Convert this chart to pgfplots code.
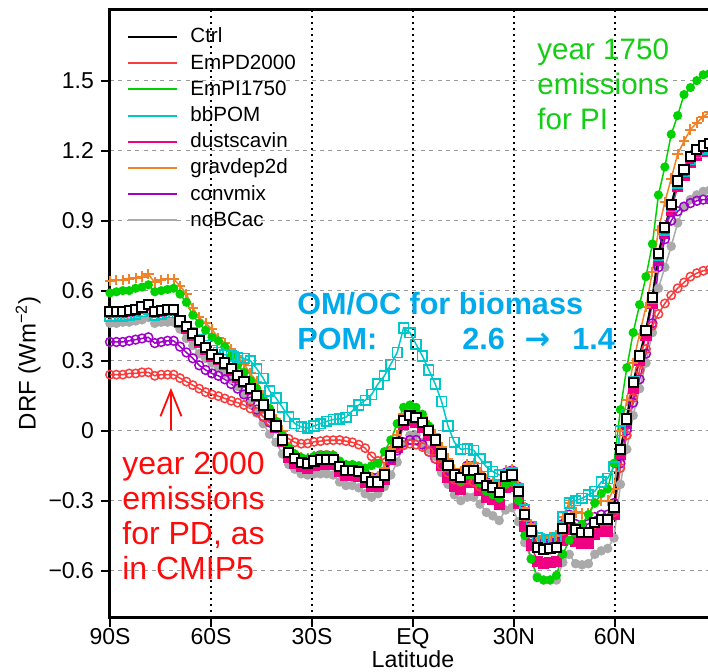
\documentclass[border=0pt]{standalone}
\usepackage{fontspec}
\setmainfont{Liberation Sans}
\newfontfamily\dejavu{DejaVu Sans}
\usepackage{pgfplots}
\pgfplotsset{compat=1.18}
\usepackage{pgfplotstable}
\usetikzlibrary{arrows.meta}
\tikzset{annot/.style={anchor=base west, inner sep=0pt}}

\definecolor{cPD}{RGB}{250,60,60}
\definecolor{cPI}{RGB}{0,210,0}
\definecolor{cBB}{RGB}{0,200,200}
\definecolor{cDS}{RGB}{240,0,130}
\definecolor{cGD}{RGB}{240,130,40}
\definecolor{cCM}{RGB}{160,0,200}
\definecolor{cNB}{RGB}{170,170,170}
\definecolor{tGreen}{RGB}{20,205,20}
\definecolor{tBlue}{RGB}{0,170,235}
\definecolor{tRed}{RGB}{255,10,10}

\pgfplotstableread{
lat ctrl pd pi bb ds gd cm nb
-90.0 0.51 0.24 0.59 0.49 0.505 0.64 0.38 0.46
-88.1 0.51 0.24 0.595 0.49 0.505 0.645 0.38 0.46
-86.2 0.51 0.24 0.60 0.49 0.505 0.645 0.38 0.465
-84.3 0.515 0.245 0.60 0.495 0.51 0.65 0.385 0.465
-82.4 0.52 0.245 0.61 0.50 0.515 0.655 0.39 0.47
-80.5 0.53 0.25 0.615 0.51 0.525 0.66 0.395 0.475
-78.6 0.54 0.25 0.625 0.52 0.535 0.67 0.40 0.485
-76.7 0.51 0.235 0.595 0.495 0.505 0.635 0.375 0.46
-74.8 0.515 0.24 0.60 0.50 0.51 0.645 0.38 0.465
-72.9 0.52 0.24 0.605 0.505 0.515 0.65 0.385 0.465
-71.1 0.52 0.24 0.61 0.505 0.515 0.65 0.385 0.465
-69.2 0.47 0.225 0.585 0.47 0.465 0.62 0.36 0.435
-67.3 0.445 0.21 0.55 0.445 0.44 0.585 0.335 0.395
-65.4 0.415 0.195 0.495 0.42 0.41 0.525 0.31 0.365
-63.5 0.385 0.18 0.46 0.39 0.38 0.485 0.28 0.33
-61.6 0.355 0.165 0.43 0.365 0.35 0.46 0.26 0.31
-59.7 0.325 0.155 0.40 0.345 0.32 0.435 0.245 0.29
-57.8 0.31 0.148 0.385 0.335 0.305 0.395 0.235 0.27
-55.9 0.29 0.138 0.36 0.325 0.285 0.375 0.22 0.245
-54.0 0.265 0.128 0.32 0.32 0.26 0.35 0.20 0.22
-52.1 0.235 0.12 0.28 0.315 0.23 0.32 0.18 0.19
-50.2 0.21 0.11 0.25 0.31 0.205 0.285 0.155 0.155
-48.3 0.18 0.095 0.215 0.30 0.175 0.245 0.125 0.115
-46.4 0.15 0.08 0.18 0.265 0.145 0.21 0.09 0.075
-44.5 0.11 0.06 0.14 0.225 0.105 0.15 0.06 0.03
-42.6 0.07 0.04 0.095 0.17 0.065 0.09 0.035 -0.015
-40.7 0.02 0.015 0.04 0.14 0.015 0.05 0.01 -0.05
-38.8 -0.04 -0.02 -0.02 0.10 -0.045 0.0 -0.04 -0.10
-36.9 -0.095 -0.035 -0.075 0.06 -0.115 -0.07 -0.085 -0.145
-35.1 -0.12 -0.05 -0.10 0.03 -0.14 -0.10 -0.11 -0.165
-33.2 -0.135 -0.056 -0.115 0.016 -0.155 -0.115 -0.12 -0.185
-31.3 -0.14 -0.055 -0.12 0.011 -0.16 -0.12 -0.125 -0.19
-29.4 -0.13 -0.048 -0.11 0.02 -0.15 -0.11 -0.115 -0.185
-27.5 -0.125 -0.045 -0.105 0.03 -0.145 -0.105 -0.105 -0.185
-25.6 -0.125 -0.041 -0.105 0.04 -0.145 -0.105 -0.105 -0.185
-23.7 -0.125 -0.041 -0.105 0.048 -0.145 -0.105 -0.11 -0.19
-21.8 -0.155 -0.04 -0.13 0.05 -0.175 -0.135 -0.14 -0.22
-19.9 -0.17 -0.045 -0.145 0.058 -0.19 -0.15 -0.155 -0.235
-18.0 -0.17 -0.05 -0.145 0.085 -0.19 -0.15 -0.155 -0.235
-16.1 -0.175 -0.06 -0.15 0.11 -0.195 -0.155 -0.16 -0.245
-14.2 -0.20 -0.075 -0.16 0.13 -0.22 -0.18 -0.185 -0.27
-12.3 -0.22 -0.11 -0.15 0.155 -0.24 -0.20 -0.20 -0.285
-10.4 -0.22 -0.13 -0.14 0.20 -0.24 -0.195 -0.20 -0.27
-8.5 -0.19 -0.12 -0.09 0.235 -0.21 -0.16 -0.18 -0.24
-6.6 -0.105 -0.085 -0.04 0.285 -0.125 -0.08 -0.12 -0.19
-4.7 -0.05 -0.07 0.03 0.335 -0.07 -0.02 -0.085 -0.135
-2.8 0.045 -0.063 0.10 0.44 0.025 0.07 -0.05 -0.06
-0.9 0.065 -0.056 0.11 0.42 0.045 0.09 -0.04 -0.02
0.9 0.055 -0.06 0.10 0.37 0.035 0.08 -0.04 -0.02
2.8 0.035 -0.07 0.07 0.32 0.015 0.06 -0.06 -0.05
4.7 0.0 -0.09 0.02 0.26 -0.02 0.025 -0.09 -0.08
6.6 -0.04 -0.12 -0.04 0.20 -0.09 -0.015 -0.12 -0.11
8.5 -0.10 -0.15 -0.11 0.125 -0.15 -0.07 -0.15 -0.18
10.4 -0.15 -0.18 -0.16 0.02 -0.20 -0.12 -0.17 -0.23
12.3 -0.19 -0.21 -0.20 -0.05 -0.24 -0.165 -0.18 -0.275
14.2 -0.20 -0.22 -0.215 -0.08 -0.25 -0.175 -0.18 -0.30
16.1 -0.17 -0.21 -0.19 -0.077 -0.22 -0.145 -0.15 -0.285
18.0 -0.17 -0.22 -0.19 -0.084 -0.22 -0.14 -0.15 -0.285
19.9 -0.205 -0.24 -0.225 -0.12 -0.255 -0.18 -0.19 -0.315
21.8 -0.235 -0.25 -0.26 -0.155 -0.285 -0.21 -0.22 -0.35
23.7 -0.245 -0.26 -0.275 -0.175 -0.295 -0.22 -0.23 -0.365
25.6 -0.265 -0.27 -0.29 -0.19 -0.315 -0.24 -0.25 -0.385
27.5 -0.195 -0.23 -0.23 -0.19 -0.245 -0.17 -0.18 -0.34
29.4 -0.19 -0.22 -0.22 -0.18 -0.24 -0.165 -0.17 -0.33
31.3 -0.26 -0.27 -0.30 -0.25 -0.31 -0.235 -0.24 -0.39
33.2 -0.36 -0.37 -0.45 -0.34 -0.41 -0.33 -0.33 -0.48
35.1 -0.43 -0.44 -0.55 -0.41 -0.49 -0.40 -0.41 -0.55
36.9 -0.50 -0.50 -0.63 -0.46 -0.56 -0.45 -0.47 -0.625
38.8 -0.51 -0.51 -0.64 -0.47 -0.57 -0.46 -0.485 -0.64
40.7 -0.505 -0.51 -0.64 -0.465 -0.565 -0.455 -0.48 -0.64
42.6 -0.50 -0.50 -0.62 -0.46 -0.56 -0.45 -0.475 -0.64
44.5 -0.42 -0.43 -0.53 -0.37 -0.47 -0.37 -0.40 -0.565
46.4 -0.375 -0.39 -0.47 -0.31 -0.425 -0.31 -0.36 -0.53
48.3 -0.425 -0.43 -0.44 -0.30 -0.475 -0.35 -0.40 -0.57
50.2 -0.435 -0.44 -0.40 -0.29 -0.485 -0.355 -0.405 -0.575
52.1 -0.435 -0.44 -0.36 -0.275 -0.485 -0.355 -0.40 -0.57
54.0 -0.395 -0.40 -0.31 -0.26 -0.445 -0.31 -0.37 -0.53
55.9 -0.38 -0.39 -0.27 -0.22 -0.43 -0.30 -0.36 -0.515
57.8 -0.38 -0.39 -0.25 -0.205 -0.43 -0.30 -0.36 -0.505
59.7 -0.33 -0.35 -0.14 -0.155 -0.36 -0.25 -0.31 -0.46
61.6 -0.08 -0.16 0.09 0.0 -0.10 0.0 -0.14 -0.23
63.5 0.05 -0.02 0.27 0.07 0.03 0.13 0.0 -0.08
65.4 0.205 0.14 0.42 0.21 0.18 0.29 0.12 0.065
67.3 0.32 0.26 0.54 0.32 0.30 0.415 0.22 0.18
69.2 0.43 0.35 0.66 0.43 0.41 0.53 0.33 0.29
71.1 0.57 0.45 0.80 0.565 0.545 0.68 0.46 0.42
72.9 0.76 0.50 1.01 0.75 0.73 0.86 0.70 0.61
74.8 0.87 0.545 1.13 0.86 0.845 0.98 0.82 0.70
76.7 0.97 0.58 1.27 0.96 0.945 1.08 0.90 0.79
78.6 1.07 0.61 1.35 1.06 1.045 1.185 0.94 0.89
80.5 1.12 0.635 1.44 1.11 1.095 1.24 0.96 0.96
82.4 1.175 0.66 1.47 1.16 1.15 1.29 0.975 0.99
84.3 1.205 0.675 1.50 1.19 1.18 1.32 0.985 1.01
86.2 1.22 0.685 1.525 1.205 1.195 1.345 0.99 1.025
88.1 1.23 0.69 1.53 1.21 1.205 1.365 0.99 1.03
90.0 1.235 0.69 1.535 1.215 1.21 1.37 0.99 1.035
}\drfdata

\begin{document}
\begin{tikzpicture}
\begin{axis}[
  at={(0,0)}, anchor=south west,
  scale only axis, width=303pt, height=304pt,
  xmin=-90, xmax=90, ymin=-0.8028, ymax=1.8026,
  xtick={-90,-60,-30,0,30,60},
  xticklabels={90S,60S,30S,EQ,30N,60N},
  ytick={-0.6,-0.3,0,0.3,0.6,0.9,1.2,1.5},
  yticklabels={−0.6,−0.3,0,0.3,0.6,0.9,1.2,1.5},
  tick align=outside, tick pos=left, major tick length=4.5pt,
  every tick/.style={black, line width=1pt},
  axis line style={line width=1.5pt},
  xmajorgrids, ymajorgrids,
  x grid style={black, line width=1pt, dash pattern=on 1pt off 2pt},
  y grid style={black!40, line width=0.8pt, dash pattern=on 2pt off 2.2pt},
  ticklabel style={font=\fontsize{11.5}{13}\selectfont},
  xticklabel style={inner sep=0pt, text depth=0pt, yshift=-0.4pt},
  xlabel={Latitude}, ylabel={DRF (Wm\textsuperscript{−2})},
  label style={font=\fontsize{12}{14}\selectfont},
  xlabel style={font=\fontsize{11.6}{13}\selectfont, at={(axis description cs:0.5,-0.0815)}, anchor=base, inner sep=0pt},
  ylabel style={at={(axis description cs:-0.135,0.419)}, anchor=center},
  legend style={draw=none, fill=none, at={(axis cs:-84.95,1.736)}, anchor=north west,
    font=\fontsize{10.3}{12}\selectfont, row sep=2.1pt, column sep=5.5pt, inner sep=0pt,
    nodes={inner sep=0.5pt, text height=8pt, text depth=2pt}},
  legend cell align=left,
  legend image code/.code={\draw[#1] (0pt,0pt) -- (24.5pt,0pt);},
]
\addplot[cNB, line width=0.75pt, mark=*, mark size=2pt, forget plot] table[x=lat,y=nb]{\drfdata};
\addplot[cDS, line width=0.75pt, mark=square*, mark size=2.4pt, forget plot] table[x=lat,y=ds]{\drfdata};
\addplot[cCM, line width=0.75pt, mark=o, mark size=2.2pt, forget plot] table[x=lat,y=cm]{\drfdata};
\addplot[cPD, line width=0.75pt, mark=o, mark size=2.1pt, forget plot] table[x=lat,y=pd]{\drfdata};
\addplot[cGD, line width=0.75pt, mark=+, mark size=2.6pt, mark options={line width=1pt}, forget plot] table[x=lat,y=gd]{\drfdata};
\addplot[cPI, line width=0.75pt, mark=*, mark size=1.9pt, forget plot] table[x=lat,y=pi]{\drfdata};
\addplot[cBB, line width=0.75pt, mark=square, mark size=2.4pt, forget plot] table[x=lat,y=bb]{\drfdata};
\addplot[black, line width=1pt, mark=square*, mark size=2.3pt, mark options={fill=white, line width=1pt}, forget plot] table[x=lat,y=ctrl]{\drfdata};

\addlegendimage{black, line width=1pt}\addlegendentry{Ctrl}
\addlegendimage{cPD, line width=1pt}\addlegendentry{EmPD2000}
\addlegendimage{cPI, line width=1pt}\addlegendentry{EmPI1750}
\addlegendimage{cBB, line width=1pt}\addlegendentry{bbPOM}
\addlegendimage{cDS, line width=1pt}\addlegendentry{dustscavin}
\addlegendimage{cGD, line width=1pt}\addlegendentry{gravdep2d}
\addlegendimage{cCM, line width=1pt}\addlegendentry{convmix}
\addlegendimage{cNB, line width=1pt}\addlegendentry{noBCac}

\node[annot, text=tGreen, font=\fontsize{14.8}{18}\selectfont] at (axis cs:36.83,1.589) {year 1750};
\node[annot, text=tGreen, font=\fontsize{14.8}{18}\selectfont] at (axis cs:36.83,1.439) {emissions};
\node[annot, text=tGreen, font=\fontsize{14.8}{18}\selectfont] at (axis cs:36.83,1.289) {for PI};

\node[annot, text=tBlue, font=\bfseries\fontsize{15.3}{18}\selectfont] at (axis cs:-34.45,0.496) {OM/OC for biomass};
\node[annot, text=tBlue, font=\bfseries\fontsize{15.3}{18}\selectfont] at (axis cs:-34.45,0.346) {POM:};
\node[annot, text=tBlue, font=\bfseries\fontsize{15.3}{18}\selectfont] at (axis cs:14.55,0.346) {2.6};
\node[annot, text=tBlue, font=\bfseries\fontsize{15.3}{18}\selectfont] at (axis cs:33.0,0.346) {\dejavu\bfseries →};
\node[annot, text=tBlue, font=\bfseries\fontsize{15.3}{18}\selectfont] at (axis cs:47.22,0.346) {1.4};

\node[annot, text=tRed, font=\fontsize{16}{18}\selectfont] at (axis cs:-86.44,-0.19) {year 2000};
\node[annot, text=tRed, font=\fontsize{16}{18}\selectfont] at (axis cs:-86.44,-0.34) {emissions};
\node[annot, text=tRed, font=\fontsize{16}{18}\selectfont] at (axis cs:-86.44,-0.49) {for PD, as};
\node[annot, text=tRed, font=\fontsize{16}{18}\selectfont] at (axis cs:-86.44,-0.64) {in CMIP5};

\draw[tRed, line width=0.9pt, -{Straight Barb[length=13pt, width=10.5pt]}] (axis cs:-71.9,0.003) -- (axis cs:-71.9,0.183);
\end{axis}
\pgfresetboundingbox
\useasboundingbox (-55pt,-27pt) rectangle (299pt,309pt);
\end{tikzpicture}
\end{document}
